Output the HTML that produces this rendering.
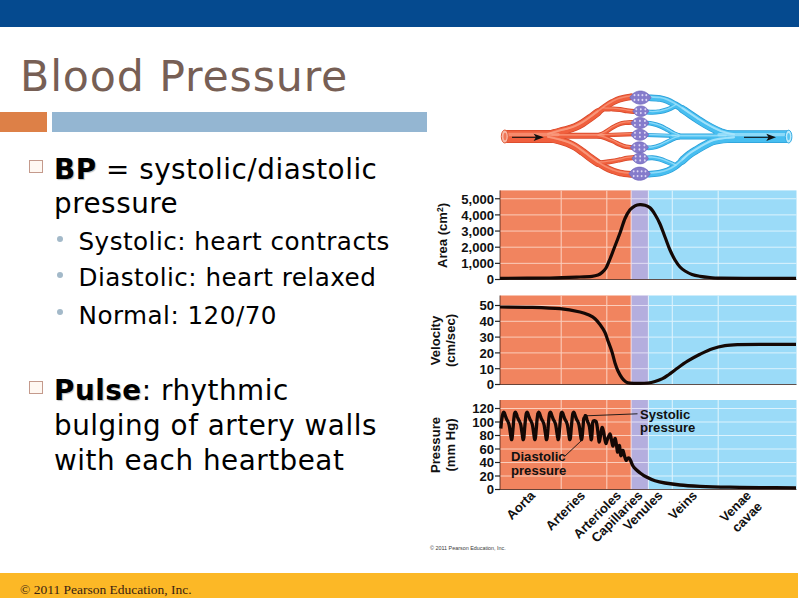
<!DOCTYPE html>
<html><head><meta charset="utf-8"><title>Blood Pressure</title>
<style>
html,body{margin:0;padding:0;}
body{width:800px;height:600px;position:relative;overflow:hidden;background:#fff;font-family:"DejaVu Sans","Liberation Sans",sans-serif;}
#top{position:absolute;left:0;top:0;width:798.6px;height:26.7px;background:#054a8f;}
#or{position:absolute;left:0;top:112px;width:46.8px;height:19.6px;background:#dd8047;}
#bl{position:absolute;left:52px;top:112px;width:375px;height:19.6px;background:#94b6d2;}
#foot{position:absolute;left:0;top:572.6px;width:798px;height:25.8px;background:#fcb826;}
#foottxt{position:absolute;left:20px;top:581.4px;font-family:"Liberation Serif",serif;font-size:13.5px;color:#3a2312;white-space:nowrap;line-height:18px;}
h1{position:absolute;left:20px;top:51.3px;margin:0;font-weight:normal;font-size:42.7px;letter-spacing:0.85px;line-height:50px;color:#775f55;white-space:nowrap;}
.l1{position:absolute;left:54px;font-size:27.8px;letter-spacing:0.52px;line-height:34px;color:#000;white-space:nowrap;}
.l1 b{text-shadow:1px 1px 1px rgba(0,0,0,.25);}
.sq{position:absolute;left:29px;width:12px;height:10.5px;border:1px solid #c49a8c;background:#fff8f2;}
.l2{position:absolute;left:78.5px;font-size:24.65px;letter-spacing:0.46px;line-height:30px;color:#000;white-space:nowrap;}
.dot{position:absolute;left:57px;width:6px;height:6px;border-radius:50%;background:#a3b9c9;}
#fig{position:absolute;left:0;top:0;}
#fig text{font-family:"Liberation Sans",sans-serif;font-weight:bold;fill:#111;}
#fig .tk text{font-size:13.1px;}
#fig .ax{font-size:13.1px;}
#fig .lb text{font-size:13.1px;}
#fig .xl text{font-size:13.1px;}

</style></head><body>
<div id="top"></div>
<h1>Blood Pressure</h1>
<div id="or"></div><div id="bl"></div>

<div class="sq" style="top:160px"></div>
<div class="l1" style="top:152.5px"><b>BP</b> = systolic/diastolic</div>
<div class="l1" style="top:187.1px">pressure</div>
<div class="dot" style="top:236px"></div>
<div class="l2" style="top:227.1px">Systolic: heart contracts</div>
<div class="dot" style="top:272px"></div>
<div class="l2" style="top:263.4px">Diastolic: heart relaxed</div>
<div class="dot" style="top:309px"></div>
<div class="l2" style="top:301px">Normal: 120/70</div>
<div class="sq" style="top:381px"></div>
<div class="l1" style="top:374px"><b>Pulse</b>: rhythmic</div>
<div class="l1" style="top:408.7px">bulging of artery walls</div>
<div class="l1" style="top:443.8px">with each heartbeat</div>

<svg id="fig" width="800" height="600" viewBox="0 0 800 600">
<!--VESSELS-->
<path d="M503 136.5H558" stroke="#d8492a" stroke-width="13" fill="none" stroke-linecap="round"/>
<path d="M548.0 135.0C549.0 134.7 552.0 133.8 554.0 133.2C556.0 132.6 557.8 132.1 560.0 131.5C562.2 130.9 565.0 130.3 567.5 129.6C570.0 128.9 572.5 128.2 575.0 127.1C577.5 126.0 580.0 124.7 582.5 123.2C585.0 121.7 587.5 119.9 590.0 118.1C592.5 116.3 596.2 113.4 597.5 112.5" stroke="#d8492a" stroke-width="8" fill="none" stroke-linecap="round"/>
<path d="M548.0 135.0C549.0 134.7 552.0 133.8 554.0 133.2C556.0 132.6 557.8 132.1 560.0 131.5C562.2 130.9 565.0 130.3 567.5 129.6C570.0 128.9 572.5 128.2 575.0 127.1C577.5 126.0 580.0 124.7 582.5 123.2C585.0 121.7 587.5 119.9 590.0 118.1C592.5 116.3 595.0 114.4 597.5 112.5C600.0 110.6 602.5 108.6 605.0 106.9C607.5 105.2 610.0 103.6 612.5 102.3C615.0 101.0 616.9 99.9 620.0 99.0C623.1 98.1 629.2 97.1 631.0 96.7" stroke="#d8492a" stroke-width="6.6" fill="none" stroke-linecap="round"/>
<path d="M548.0 138.0C549.0 138.2 552.0 138.8 554.0 139.2C556.0 139.6 557.8 140.0 560.0 140.6C562.2 141.2 565.0 142.0 567.5 143.0C570.0 144.0 572.5 145.1 575.0 146.6C577.5 148.1 580.0 150.0 582.5 151.8C585.0 153.6 587.5 155.7 590.0 157.5C592.5 159.3 596.2 161.9 597.5 162.8" stroke="#d8492a" stroke-width="8" fill="none" stroke-linecap="round"/>
<path d="M548.0 138.0C549.0 138.2 552.0 138.8 554.0 139.2C556.0 139.6 557.8 140.0 560.0 140.6C562.2 141.2 565.0 142.0 567.5 143.0C570.0 144.0 572.5 145.1 575.0 146.6C577.5 148.1 580.0 150.0 582.5 151.8C585.0 153.6 587.5 155.7 590.0 157.5C592.5 159.3 595.0 161.2 597.5 162.8C600.0 164.4 602.5 166.0 605.0 167.3C607.5 168.6 610.0 169.7 612.5 170.6C615.0 171.5 616.9 172.3 620.0 172.9C623.1 173.5 629.2 174.2 631.0 174.4" stroke="#d8492a" stroke-width="6.6" fill="none" stroke-linecap="round"/>
<path d="M603.0 108.6C603.7 108.6 605.4 108.9 607.0 108.9C608.6 109.0 610.3 108.8 612.5 108.9C614.7 109.0 617.6 109.3 620.0 109.6C622.4 109.9 624.7 110.5 627.0 110.8C629.3 111.1 632.8 111.5 634.0 111.6" stroke="#d8492a" stroke-width="5" fill="none" stroke-linecap="round"/>
<path d="M599.0 162.8C600.0 162.7 602.8 162.6 605.0 162.3C607.2 162.1 610.0 161.7 612.5 161.3C615.0 160.9 617.6 160.3 620.0 159.8C622.4 159.3 624.7 158.6 627.0 158.2C629.3 157.8 632.8 157.7 634.0 157.6" stroke="#d8492a" stroke-width="5" fill="none" stroke-linecap="round"/>
<path d="M552 135.8H604" stroke="#d8492a" stroke-width="6" fill="none" stroke-linecap="round"/>
<path d="M600 135.3L634 134.2" stroke="#d8492a" stroke-width="4.2" fill="none" stroke-linecap="round"/>
<path d="M598.0 135.5C599.0 135.1 601.6 134.3 604.0 133.0C606.4 131.7 609.8 129.0 612.5 127.5C615.2 126.0 617.8 124.7 620.0 123.9C622.2 123.1 623.7 123.0 626.0 122.7C628.3 122.4 632.7 122.4 634.0 122.3" stroke="#d8492a" stroke-width="4.6" fill="none" stroke-linecap="round"/>
<path d="M598.0 136.0C599.0 136.2 601.6 136.7 604.0 137.5C606.4 138.3 609.8 139.8 612.5 141.0C615.2 142.2 617.8 143.7 620.0 144.7C622.2 145.7 623.7 146.3 626.0 146.8C628.3 147.3 632.7 147.5 634.0 147.7" stroke="#d8492a" stroke-width="4.6" fill="none" stroke-linecap="round"/>
<path d="M503 136.5H558" stroke="#f0603e" stroke-width="11.5" fill="none" stroke-linecap="round"/>
<path d="M548.0 135.0C549.0 134.7 552.0 133.8 554.0 133.2C556.0 132.6 557.8 132.1 560.0 131.5C562.2 130.9 565.0 130.3 567.5 129.6C570.0 128.9 572.5 128.2 575.0 127.1C577.5 126.0 580.0 124.7 582.5 123.2C585.0 121.7 587.5 119.9 590.0 118.1C592.5 116.3 596.2 113.4 597.5 112.5" stroke="#f0603e" stroke-width="6.5" fill="none" stroke-linecap="round"/>
<path d="M548.0 135.0C549.0 134.7 552.0 133.8 554.0 133.2C556.0 132.6 557.8 132.1 560.0 131.5C562.2 130.9 565.0 130.3 567.5 129.6C570.0 128.9 572.5 128.2 575.0 127.1C577.5 126.0 580.0 124.7 582.5 123.2C585.0 121.7 587.5 119.9 590.0 118.1C592.5 116.3 595.0 114.4 597.5 112.5C600.0 110.6 602.5 108.6 605.0 106.9C607.5 105.2 610.0 103.6 612.5 102.3C615.0 101.0 616.9 99.9 620.0 99.0C623.1 98.1 629.2 97.1 631.0 96.7" stroke="#f0603e" stroke-width="5.1" fill="none" stroke-linecap="round"/>
<path d="M548.0 138.0C549.0 138.2 552.0 138.8 554.0 139.2C556.0 139.6 557.8 140.0 560.0 140.6C562.2 141.2 565.0 142.0 567.5 143.0C570.0 144.0 572.5 145.1 575.0 146.6C577.5 148.1 580.0 150.0 582.5 151.8C585.0 153.6 587.5 155.7 590.0 157.5C592.5 159.3 596.2 161.9 597.5 162.8" stroke="#f0603e" stroke-width="6.5" fill="none" stroke-linecap="round"/>
<path d="M548.0 138.0C549.0 138.2 552.0 138.8 554.0 139.2C556.0 139.6 557.8 140.0 560.0 140.6C562.2 141.2 565.0 142.0 567.5 143.0C570.0 144.0 572.5 145.1 575.0 146.6C577.5 148.1 580.0 150.0 582.5 151.8C585.0 153.6 587.5 155.7 590.0 157.5C592.5 159.3 595.0 161.2 597.5 162.8C600.0 164.4 602.5 166.0 605.0 167.3C607.5 168.6 610.0 169.7 612.5 170.6C615.0 171.5 616.9 172.3 620.0 172.9C623.1 173.5 629.2 174.2 631.0 174.4" stroke="#f0603e" stroke-width="5.1" fill="none" stroke-linecap="round"/>
<path d="M603.0 108.6C603.7 108.6 605.4 108.9 607.0 108.9C608.6 109.0 610.3 108.8 612.5 108.9C614.7 109.0 617.6 109.3 620.0 109.6C622.4 109.9 624.7 110.5 627.0 110.8C629.3 111.1 632.8 111.5 634.0 111.6" stroke="#f0603e" stroke-width="3.5" fill="none" stroke-linecap="round"/>
<path d="M599.0 162.8C600.0 162.7 602.8 162.6 605.0 162.3C607.2 162.1 610.0 161.7 612.5 161.3C615.0 160.9 617.6 160.3 620.0 159.8C622.4 159.3 624.7 158.6 627.0 158.2C629.3 157.8 632.8 157.7 634.0 157.6" stroke="#f0603e" stroke-width="3.5" fill="none" stroke-linecap="round"/>
<path d="M552 135.8H604" stroke="#f0603e" stroke-width="4.5" fill="none" stroke-linecap="round"/>
<path d="M600 135.3L634 134.2" stroke="#f0603e" stroke-width="2.7" fill="none" stroke-linecap="round"/>
<path d="M598.0 135.5C599.0 135.1 601.6 134.3 604.0 133.0C606.4 131.7 609.8 129.0 612.5 127.5C615.2 126.0 617.8 124.7 620.0 123.9C622.2 123.1 623.7 123.0 626.0 122.7C628.3 122.4 632.7 122.4 634.0 122.3" stroke="#f0603e" stroke-width="3.1" fill="none" stroke-linecap="round"/>
<path d="M598.0 136.0C599.0 136.2 601.6 136.7 604.0 137.5C606.4 138.3 609.8 139.8 612.5 141.0C615.2 142.2 617.8 143.7 620.0 144.7C622.2 145.7 623.7 146.3 626.0 146.8C628.3 147.3 632.7 147.5 634.0 147.7" stroke="#f0603e" stroke-width="3.1" fill="none" stroke-linecap="round"/>
<path d="M503 136.5H558" stroke="#f99c80" stroke-width="3.4" fill="none" stroke-linecap="round" transform="translate(0,-1.95)" opacity=".7"/>
<path d="M548.0 135.0C549.0 134.7 552.0 133.8 554.0 133.2C556.0 132.6 557.8 132.1 560.0 131.5C562.2 130.9 565.0 130.3 567.5 129.6C570.0 128.9 572.5 128.2 575.0 127.1C577.5 126.0 580.0 124.7 582.5 123.2C585.0 121.7 587.5 119.9 590.0 118.1C592.5 116.3 596.2 113.4 597.5 112.5" stroke="#f99c80" stroke-width="2.1" fill="none" stroke-linecap="round" transform="translate(0,-1.20)" opacity=".7"/>
<path d="M548.0 135.0C549.0 134.7 552.0 133.8 554.0 133.2C556.0 132.6 557.8 132.1 560.0 131.5C562.2 130.9 565.0 130.3 567.5 129.6C570.0 128.9 572.5 128.2 575.0 127.1C577.5 126.0 580.0 124.7 582.5 123.2C585.0 121.7 587.5 119.9 590.0 118.1C592.5 116.3 595.0 114.4 597.5 112.5C600.0 110.6 602.5 108.6 605.0 106.9C607.5 105.2 610.0 103.6 612.5 102.3C615.0 101.0 616.9 99.9 620.0 99.0C623.1 98.1 629.2 97.1 631.0 96.7" stroke="#f99c80" stroke-width="1.7" fill="none" stroke-linecap="round" transform="translate(0,-0.99)" opacity=".7"/>
<path d="M548.0 138.0C549.0 138.2 552.0 138.8 554.0 139.2C556.0 139.6 557.8 140.0 560.0 140.6C562.2 141.2 565.0 142.0 567.5 143.0C570.0 144.0 572.5 145.1 575.0 146.6C577.5 148.1 580.0 150.0 582.5 151.8C585.0 153.6 587.5 155.7 590.0 157.5C592.5 159.3 596.2 161.9 597.5 162.8" stroke="#f99c80" stroke-width="2.1" fill="none" stroke-linecap="round" transform="translate(0,-1.20)" opacity=".7"/>
<path d="M548.0 138.0C549.0 138.2 552.0 138.8 554.0 139.2C556.0 139.6 557.8 140.0 560.0 140.6C562.2 141.2 565.0 142.0 567.5 143.0C570.0 144.0 572.5 145.1 575.0 146.6C577.5 148.1 580.0 150.0 582.5 151.8C585.0 153.6 587.5 155.7 590.0 157.5C592.5 159.3 595.0 161.2 597.5 162.8C600.0 164.4 602.5 166.0 605.0 167.3C607.5 168.6 610.0 169.7 612.5 170.6C615.0 171.5 616.9 172.3 620.0 172.9C623.1 173.5 629.2 174.2 631.0 174.4" stroke="#f99c80" stroke-width="1.7" fill="none" stroke-linecap="round" transform="translate(0,-0.99)" opacity=".7"/>
<path d="M603.0 108.6C603.7 108.6 605.4 108.9 607.0 108.9C608.6 109.0 610.3 108.8 612.5 108.9C614.7 109.0 617.6 109.3 620.0 109.6C622.4 109.9 624.7 110.5 627.0 110.8C629.3 111.1 632.8 111.5 634.0 111.6" stroke="#f99c80" stroke-width="1.3" fill="none" stroke-linecap="round" transform="translate(0,-0.75)" opacity=".7"/>
<path d="M599.0 162.8C600.0 162.7 602.8 162.6 605.0 162.3C607.2 162.1 610.0 161.7 612.5 161.3C615.0 160.9 617.6 160.3 620.0 159.8C622.4 159.3 624.7 158.6 627.0 158.2C629.3 157.8 632.8 157.7 634.0 157.6" stroke="#f99c80" stroke-width="1.3" fill="none" stroke-linecap="round" transform="translate(0,-0.75)" opacity=".7"/>
<path d="M552 135.8H604" stroke="#f99c80" stroke-width="1.6" fill="none" stroke-linecap="round" transform="translate(0,-0.90)" opacity=".7"/>
<path d="M600 135.3L634 134.2" stroke="#f99c80" stroke-width="1.1" fill="none" stroke-linecap="round" transform="translate(0,-0.63)" opacity=".7"/>
<path d="M598.0 135.5C599.0 135.1 601.6 134.3 604.0 133.0C606.4 131.7 609.8 129.0 612.5 127.5C615.2 126.0 617.8 124.7 620.0 123.9C622.2 123.1 623.7 123.0 626.0 122.7C628.3 122.4 632.7 122.4 634.0 122.3" stroke="#f99c80" stroke-width="1.2" fill="none" stroke-linecap="round" transform="translate(0,-0.69)" opacity=".7"/>
<path d="M598.0 136.0C599.0 136.2 601.6 136.7 604.0 137.5C606.4 138.3 609.8 139.8 612.5 141.0C615.2 142.2 617.8 143.7 620.0 144.7C622.2 145.7 623.7 146.3 626.0 146.8C628.3 147.3 632.7 147.5 634.0 147.7" stroke="#f99c80" stroke-width="1.2" fill="none" stroke-linecap="round" transform="translate(0,-0.69)" opacity=".7"/>
<path d="M719 136.6H788.5" stroke="#2b9fd8" stroke-width="12.8" fill="none" stroke-linecap="round"/>
<path d="M734.0 135.5C732.8 135.2 729.2 134.6 727.0 134.0C724.8 133.4 723.0 132.9 721.0 132.2C719.0 131.4 717.7 130.8 715.0 129.5C712.3 128.2 707.9 125.8 705.0 124.1C702.1 122.4 700.0 121.0 697.5 119.4C695.0 117.8 692.5 116.1 690.0 114.4C687.5 112.7 683.8 110.1 682.5 109.2" stroke="#2b9fd8" stroke-width="8" fill="none" stroke-linecap="round"/>
<path d="M734.0 135.5C732.8 135.2 729.2 134.6 727.0 134.0C724.8 133.4 723.0 132.9 721.0 132.2C719.0 131.4 717.7 130.8 715.0 129.5C712.3 128.2 707.9 125.8 705.0 124.1C702.1 122.4 700.0 121.0 697.5 119.4C695.0 117.8 692.5 116.1 690.0 114.4C687.5 112.7 685.0 110.9 682.5 109.2C680.0 107.5 677.5 105.9 675.0 104.5C672.5 103.1 670.0 101.6 667.5 100.6C665.0 99.6 663.1 99.0 660.0 98.5C656.9 98.0 650.8 97.9 649.0 97.8" stroke="#2b9fd8" stroke-width="6.6" fill="none" stroke-linecap="round"/>
<path d="M734.0 138.3C732.8 138.4 729.3 138.8 727.0 139.0C724.7 139.2 722.5 139.4 720.0 139.8C717.5 140.2 714.5 140.7 712.0 141.6C709.5 142.5 707.4 143.8 705.0 145.1C702.6 146.4 700.0 147.9 697.5 149.4C695.0 150.9 692.5 152.2 690.0 154.1C687.5 155.9 683.8 159.4 682.5 160.5" stroke="#2b9fd8" stroke-width="8" fill="none" stroke-linecap="round"/>
<path d="M734.0 138.3C732.8 138.4 729.3 138.8 727.0 139.0C724.7 139.2 722.5 139.4 720.0 139.8C717.5 140.2 714.5 140.7 712.0 141.6C709.5 142.5 707.4 143.8 705.0 145.1C702.6 146.4 700.0 147.9 697.5 149.4C695.0 150.9 692.5 152.2 690.0 154.1C687.5 155.9 685.0 158.4 682.5 160.5C680.0 162.6 677.5 165.1 675.0 166.8C672.5 168.5 670.0 169.8 667.5 170.8C665.0 171.8 663.1 172.3 660.0 172.9C656.9 173.5 650.8 174.0 649.0 174.2" stroke="#2b9fd8" stroke-width="6.6" fill="none" stroke-linecap="round"/>
<path d="M676.0 105.0C675.6 105.3 674.9 106.0 673.5 106.8C672.1 107.6 669.8 108.8 667.5 109.6C665.2 110.4 662.5 111.1 660.0 111.6C657.5 112.0 654.8 112.3 652.5 112.3C650.2 112.3 647.1 111.9 646.0 111.8" stroke="#2b9fd8" stroke-width="5" fill="none" stroke-linecap="round"/>
<path d="M676.0 166.0C675.5 165.7 674.1 164.9 672.7 164.2C671.3 163.5 669.6 162.8 667.5 162.0C665.4 161.2 662.5 159.9 660.0 159.2C657.5 158.5 654.8 158.0 652.5 157.8C650.2 157.6 647.1 158.0 646.0 158.0" stroke="#2b9fd8" stroke-width="5" fill="none" stroke-linecap="round"/>
<path d="M726 136.5H672" stroke="#2b9fd8" stroke-width="6" fill="none" stroke-linecap="round"/>
<path d="M676 136L646 135" stroke="#2b9fd8" stroke-width="4.2" fill="none" stroke-linecap="round"/>
<path d="M679.0 135.5C678.2 135.2 675.9 134.4 674.0 133.5C672.1 132.6 669.8 131.1 667.5 129.8C665.2 128.6 662.5 127.0 660.0 126.0C657.5 125.0 654.8 124.3 652.5 123.8C650.2 123.3 647.1 123.1 646.0 123.0" stroke="#2b9fd8" stroke-width="4.6" fill="none" stroke-linecap="round"/>
<path d="M679.0 137.0C678.1 137.3 675.4 138.0 673.5 138.8C671.6 139.6 669.8 140.7 667.5 141.8C665.2 142.9 662.5 144.4 660.0 145.4C657.5 146.4 654.8 147.2 652.5 147.6C650.2 148.0 647.1 147.8 646.0 147.8" stroke="#2b9fd8" stroke-width="4.6" fill="none" stroke-linecap="round"/>
<path d="M719 136.6H788.5" stroke="#47bef0" stroke-width="11.3" fill="none" stroke-linecap="round"/>
<path d="M734.0 135.5C732.8 135.2 729.2 134.6 727.0 134.0C724.8 133.4 723.0 132.9 721.0 132.2C719.0 131.4 717.7 130.8 715.0 129.5C712.3 128.2 707.9 125.8 705.0 124.1C702.1 122.4 700.0 121.0 697.5 119.4C695.0 117.8 692.5 116.1 690.0 114.4C687.5 112.7 683.8 110.1 682.5 109.2" stroke="#47bef0" stroke-width="6.5" fill="none" stroke-linecap="round"/>
<path d="M734.0 135.5C732.8 135.2 729.2 134.6 727.0 134.0C724.8 133.4 723.0 132.9 721.0 132.2C719.0 131.4 717.7 130.8 715.0 129.5C712.3 128.2 707.9 125.8 705.0 124.1C702.1 122.4 700.0 121.0 697.5 119.4C695.0 117.8 692.5 116.1 690.0 114.4C687.5 112.7 685.0 110.9 682.5 109.2C680.0 107.5 677.5 105.9 675.0 104.5C672.5 103.1 670.0 101.6 667.5 100.6C665.0 99.6 663.1 99.0 660.0 98.5C656.9 98.0 650.8 97.9 649.0 97.8" stroke="#47bef0" stroke-width="5.1" fill="none" stroke-linecap="round"/>
<path d="M734.0 138.3C732.8 138.4 729.3 138.8 727.0 139.0C724.7 139.2 722.5 139.4 720.0 139.8C717.5 140.2 714.5 140.7 712.0 141.6C709.5 142.5 707.4 143.8 705.0 145.1C702.6 146.4 700.0 147.9 697.5 149.4C695.0 150.9 692.5 152.2 690.0 154.1C687.5 155.9 683.8 159.4 682.5 160.5" stroke="#47bef0" stroke-width="6.5" fill="none" stroke-linecap="round"/>
<path d="M734.0 138.3C732.8 138.4 729.3 138.8 727.0 139.0C724.7 139.2 722.5 139.4 720.0 139.8C717.5 140.2 714.5 140.7 712.0 141.6C709.5 142.5 707.4 143.8 705.0 145.1C702.6 146.4 700.0 147.9 697.5 149.4C695.0 150.9 692.5 152.2 690.0 154.1C687.5 155.9 685.0 158.4 682.5 160.5C680.0 162.6 677.5 165.1 675.0 166.8C672.5 168.5 670.0 169.8 667.5 170.8C665.0 171.8 663.1 172.3 660.0 172.9C656.9 173.5 650.8 174.0 649.0 174.2" stroke="#47bef0" stroke-width="5.1" fill="none" stroke-linecap="round"/>
<path d="M676.0 105.0C675.6 105.3 674.9 106.0 673.5 106.8C672.1 107.6 669.8 108.8 667.5 109.6C665.2 110.4 662.5 111.1 660.0 111.6C657.5 112.0 654.8 112.3 652.5 112.3C650.2 112.3 647.1 111.9 646.0 111.8" stroke="#47bef0" stroke-width="3.5" fill="none" stroke-linecap="round"/>
<path d="M676.0 166.0C675.5 165.7 674.1 164.9 672.7 164.2C671.3 163.5 669.6 162.8 667.5 162.0C665.4 161.2 662.5 159.9 660.0 159.2C657.5 158.5 654.8 158.0 652.5 157.8C650.2 157.6 647.1 158.0 646.0 158.0" stroke="#47bef0" stroke-width="3.5" fill="none" stroke-linecap="round"/>
<path d="M726 136.5H672" stroke="#47bef0" stroke-width="4.5" fill="none" stroke-linecap="round"/>
<path d="M676 136L646 135" stroke="#47bef0" stroke-width="2.7" fill="none" stroke-linecap="round"/>
<path d="M679.0 135.5C678.2 135.2 675.9 134.4 674.0 133.5C672.1 132.6 669.8 131.1 667.5 129.8C665.2 128.6 662.5 127.0 660.0 126.0C657.5 125.0 654.8 124.3 652.5 123.8C650.2 123.3 647.1 123.1 646.0 123.0" stroke="#47bef0" stroke-width="3.1" fill="none" stroke-linecap="round"/>
<path d="M679.0 137.0C678.1 137.3 675.4 138.0 673.5 138.8C671.6 139.6 669.8 140.7 667.5 141.8C665.2 142.9 662.5 144.4 660.0 145.4C657.5 146.4 654.8 147.2 652.5 147.6C650.2 148.0 647.1 147.8 646.0 147.8" stroke="#47bef0" stroke-width="3.1" fill="none" stroke-linecap="round"/>
<path d="M719 136.6H788.5" stroke="#a9e6fc" stroke-width="3.3" fill="none" stroke-linecap="round" transform="translate(0,-1.92)" opacity=".7"/>
<path d="M734.0 135.5C732.8 135.2 729.2 134.6 727.0 134.0C724.8 133.4 723.0 132.9 721.0 132.2C719.0 131.4 717.7 130.8 715.0 129.5C712.3 128.2 707.9 125.8 705.0 124.1C702.1 122.4 700.0 121.0 697.5 119.4C695.0 117.8 692.5 116.1 690.0 114.4C687.5 112.7 683.8 110.1 682.5 109.2" stroke="#a9e6fc" stroke-width="2.1" fill="none" stroke-linecap="round" transform="translate(0,-1.20)" opacity=".7"/>
<path d="M734.0 135.5C732.8 135.2 729.2 134.6 727.0 134.0C724.8 133.4 723.0 132.9 721.0 132.2C719.0 131.4 717.7 130.8 715.0 129.5C712.3 128.2 707.9 125.8 705.0 124.1C702.1 122.4 700.0 121.0 697.5 119.4C695.0 117.8 692.5 116.1 690.0 114.4C687.5 112.7 685.0 110.9 682.5 109.2C680.0 107.5 677.5 105.9 675.0 104.5C672.5 103.1 670.0 101.6 667.5 100.6C665.0 99.6 663.1 99.0 660.0 98.5C656.9 98.0 650.8 97.9 649.0 97.8" stroke="#a9e6fc" stroke-width="1.7" fill="none" stroke-linecap="round" transform="translate(0,-0.99)" opacity=".7"/>
<path d="M734.0 138.3C732.8 138.4 729.3 138.8 727.0 139.0C724.7 139.2 722.5 139.4 720.0 139.8C717.5 140.2 714.5 140.7 712.0 141.6C709.5 142.5 707.4 143.8 705.0 145.1C702.6 146.4 700.0 147.9 697.5 149.4C695.0 150.9 692.5 152.2 690.0 154.1C687.5 155.9 683.8 159.4 682.5 160.5" stroke="#a9e6fc" stroke-width="2.1" fill="none" stroke-linecap="round" transform="translate(0,-1.20)" opacity=".7"/>
<path d="M734.0 138.3C732.8 138.4 729.3 138.8 727.0 139.0C724.7 139.2 722.5 139.4 720.0 139.8C717.5 140.2 714.5 140.7 712.0 141.6C709.5 142.5 707.4 143.8 705.0 145.1C702.6 146.4 700.0 147.9 697.5 149.4C695.0 150.9 692.5 152.2 690.0 154.1C687.5 155.9 685.0 158.4 682.5 160.5C680.0 162.6 677.5 165.1 675.0 166.8C672.5 168.5 670.0 169.8 667.5 170.8C665.0 171.8 663.1 172.3 660.0 172.9C656.9 173.5 650.8 174.0 649.0 174.2" stroke="#a9e6fc" stroke-width="1.7" fill="none" stroke-linecap="round" transform="translate(0,-0.99)" opacity=".7"/>
<path d="M676.0 105.0C675.6 105.3 674.9 106.0 673.5 106.8C672.1 107.6 669.8 108.8 667.5 109.6C665.2 110.4 662.5 111.1 660.0 111.6C657.5 112.0 654.8 112.3 652.5 112.3C650.2 112.3 647.1 111.9 646.0 111.8" stroke="#a9e6fc" stroke-width="1.3" fill="none" stroke-linecap="round" transform="translate(0,-0.75)" opacity=".7"/>
<path d="M676.0 166.0C675.5 165.7 674.1 164.9 672.7 164.2C671.3 163.5 669.6 162.8 667.5 162.0C665.4 161.2 662.5 159.9 660.0 159.2C657.5 158.5 654.8 158.0 652.5 157.8C650.2 157.6 647.1 158.0 646.0 158.0" stroke="#a9e6fc" stroke-width="1.3" fill="none" stroke-linecap="round" transform="translate(0,-0.75)" opacity=".7"/>
<path d="M726 136.5H672" stroke="#a9e6fc" stroke-width="1.6" fill="none" stroke-linecap="round" transform="translate(0,-0.90)" opacity=".7"/>
<path d="M676 136L646 135" stroke="#a9e6fc" stroke-width="1.1" fill="none" stroke-linecap="round" transform="translate(0,-0.63)" opacity=".7"/>
<path d="M679.0 135.5C678.2 135.2 675.9 134.4 674.0 133.5C672.1 132.6 669.8 131.1 667.5 129.8C665.2 128.6 662.5 127.0 660.0 126.0C657.5 125.0 654.8 124.3 652.5 123.8C650.2 123.3 647.1 123.1 646.0 123.0" stroke="#a9e6fc" stroke-width="1.2" fill="none" stroke-linecap="round" transform="translate(0,-0.69)" opacity=".7"/>
<path d="M679.0 137.0C678.1 137.3 675.4 138.0 673.5 138.8C671.6 139.6 669.8 140.7 667.5 141.8C665.2 142.9 662.5 144.4 660.0 145.4C657.5 146.4 654.8 147.2 652.5 147.6C650.2 148.0 647.1 147.8 646.0 147.8" stroke="#a9e6fc" stroke-width="1.2" fill="none" stroke-linecap="round" transform="translate(0,-0.69)" opacity=".7"/>
<rect x="494" y="128" width="9.5" height="17" fill="#fff"/><rect x="789" y="128" width="10" height="17" fill="#fff"/>
<ellipse cx="504.8" cy="136.5" rx="3.5" ry="6.5" fill="#f8b8a6" stroke="#e2603f" stroke-width="1"/>
<ellipse cx="505" cy="136.5" rx="1.5" ry="3.7" fill="#f07858"/>
<ellipse cx="788.6" cy="136.6" rx="3.3" ry="6.4" fill="#bdebfc" stroke="#36ade5" stroke-width="1"/>
<ellipse cx="788.6" cy="136.6" rx="1.4" ry="3.6" fill="#58c6f2"/>
<path d="M512 137.3H537" stroke="#111" stroke-width="1.1"/><path d="M543.8 137.3L533.6 133.7L536 137.3L533.6 140.9Z" fill="#111"/>
<path d="M744 137.3H769" stroke="#111" stroke-width="1.1"/><path d="M776 137.3L766.3 133.7L768.6 137.3L766.3 140.9Z" fill="#111"/>
<path d="M629.8 97.6C634.6 88.8 646.2 88.8 651.0 97.6C646.2 106.4 634.6 106.4 629.8 97.6Z" fill="#857bcb" stroke="#7066bb" stroke-width="0.7"/>
<ellipse cx="634.5" cy="95.2" rx="0.95" ry="1.15" fill="#ddd6f4"/>
<ellipse cx="638.4" cy="95.2" rx="0.95" ry="1.15" fill="#ddd6f4"/>
<ellipse cx="642.4" cy="95.2" rx="0.95" ry="1.15" fill="#ddd6f4"/>
<ellipse cx="646.3" cy="95.2" rx="0.95" ry="1.15" fill="#ddd6f4"/>
<ellipse cx="634.5" cy="100.0" rx="0.95" ry="1.15" fill="#ddd6f4"/>
<ellipse cx="638.4" cy="100.0" rx="0.95" ry="1.15" fill="#ddd6f4"/>
<ellipse cx="642.4" cy="100.0" rx="0.95" ry="1.15" fill="#ddd6f4"/>
<ellipse cx="646.3" cy="100.0" rx="0.95" ry="1.15" fill="#ddd6f4"/>
<path d="M632.8 111.2C636.4 104.1 645.2 104.1 648.8 111.2C645.2 118.3 636.4 118.3 632.8 111.2Z" fill="#857bcb" stroke="#7066bb" stroke-width="0.7"/>
<ellipse cx="636.3" cy="109.3" rx="0.95" ry="1.15" fill="#ddd6f4"/>
<ellipse cx="640.8" cy="109.3" rx="0.95" ry="1.15" fill="#ddd6f4"/>
<ellipse cx="645.3" cy="109.3" rx="0.95" ry="1.15" fill="#ddd6f4"/>
<ellipse cx="636.3" cy="113.1" rx="0.95" ry="1.15" fill="#ddd6f4"/>
<ellipse cx="640.8" cy="113.1" rx="0.95" ry="1.15" fill="#ddd6f4"/>
<ellipse cx="645.3" cy="113.1" rx="0.95" ry="1.15" fill="#ddd6f4"/>
<path d="M630.9 123C634.9 115.5 644.9 115.5 648.9 123C644.9 130.5 634.9 130.5 630.9 123Z" fill="#857bcb" stroke="#7066bb" stroke-width="0.7"/>
<ellipse cx="634.9" cy="120.9" rx="0.95" ry="1.15" fill="#ddd6f4"/>
<ellipse cx="639.9" cy="120.9" rx="0.95" ry="1.15" fill="#ddd6f4"/>
<ellipse cx="644.9" cy="120.9" rx="0.95" ry="1.15" fill="#ddd6f4"/>
<ellipse cx="634.9" cy="125.1" rx="0.95" ry="1.15" fill="#ddd6f4"/>
<ellipse cx="639.9" cy="125.1" rx="0.95" ry="1.15" fill="#ddd6f4"/>
<ellipse cx="644.9" cy="125.1" rx="0.95" ry="1.15" fill="#ddd6f4"/>
<path d="M631.1 134.8C635.1 127.4 644.7 127.4 648.7 134.8C644.7 142.2 635.1 142.2 631.1 134.8Z" fill="#857bcb" stroke="#7066bb" stroke-width="0.7"/>
<ellipse cx="635.0" cy="132.8" rx="0.95" ry="1.15" fill="#ddd6f4"/>
<ellipse cx="639.9" cy="132.8" rx="0.95" ry="1.15" fill="#ddd6f4"/>
<ellipse cx="644.8" cy="132.8" rx="0.95" ry="1.15" fill="#ddd6f4"/>
<ellipse cx="635.0" cy="136.8" rx="0.95" ry="1.15" fill="#ddd6f4"/>
<ellipse cx="639.9" cy="136.8" rx="0.95" ry="1.15" fill="#ddd6f4"/>
<ellipse cx="644.8" cy="136.8" rx="0.95" ry="1.15" fill="#ddd6f4"/>
<path d="M630.4 147.4C634.4 139.9 644.4 139.9 648.4 147.4C644.4 154.9 634.4 154.9 630.4 147.4Z" fill="#857bcb" stroke="#7066bb" stroke-width="0.7"/>
<ellipse cx="634.4" cy="145.3" rx="0.95" ry="1.15" fill="#ddd6f4"/>
<ellipse cx="639.4" cy="145.3" rx="0.95" ry="1.15" fill="#ddd6f4"/>
<ellipse cx="644.4" cy="145.3" rx="0.95" ry="1.15" fill="#ddd6f4"/>
<ellipse cx="634.4" cy="149.5" rx="0.95" ry="1.15" fill="#ddd6f4"/>
<ellipse cx="639.4" cy="149.5" rx="0.95" ry="1.15" fill="#ddd6f4"/>
<ellipse cx="644.4" cy="149.5" rx="0.95" ry="1.15" fill="#ddd6f4"/>
<path d="M632.0 158.4C635.7 151.1 644.7 151.1 648.4 158.4C644.7 165.7 635.7 165.7 632.0 158.4Z" fill="#857bcb" stroke="#7066bb" stroke-width="0.7"/>
<ellipse cx="635.6" cy="156.4" rx="0.95" ry="1.15" fill="#ddd6f4"/>
<ellipse cx="640.2" cy="156.4" rx="0.95" ry="1.15" fill="#ddd6f4"/>
<ellipse cx="644.8" cy="156.4" rx="0.95" ry="1.15" fill="#ddd6f4"/>
<ellipse cx="635.6" cy="160.4" rx="0.95" ry="1.15" fill="#ddd6f4"/>
<ellipse cx="640.2" cy="160.4" rx="0.95" ry="1.15" fill="#ddd6f4"/>
<ellipse cx="644.8" cy="160.4" rx="0.95" ry="1.15" fill="#ddd6f4"/>
<path d="M629.0 173.7C633.8 164.9 645.4 164.9 650.2 173.7C645.4 182.5 633.8 182.5 629.0 173.7Z" fill="#857bcb" stroke="#7066bb" stroke-width="0.7"/>
<ellipse cx="633.7" cy="171.3" rx="0.95" ry="1.15" fill="#ddd6f4"/>
<ellipse cx="637.6" cy="171.3" rx="0.95" ry="1.15" fill="#ddd6f4"/>
<ellipse cx="641.6" cy="171.3" rx="0.95" ry="1.15" fill="#ddd6f4"/>
<ellipse cx="645.5" cy="171.3" rx="0.95" ry="1.15" fill="#ddd6f4"/>
<ellipse cx="633.7" cy="176.1" rx="0.95" ry="1.15" fill="#ddd6f4"/>
<ellipse cx="637.6" cy="176.1" rx="0.95" ry="1.15" fill="#ddd6f4"/>
<ellipse cx="641.6" cy="176.1" rx="0.95" ry="1.15" fill="#ddd6f4"/>
<ellipse cx="645.5" cy="176.1" rx="0.95" ry="1.15" fill="#ddd6f4"/>
<!--/VESSELS-->
<!--CHARTS-->
<rect x="500" y="190.4" width="131.1" height="89.1" fill="#f1845f"/>
<rect x="631.1" y="190.4" width="17.3" height="89.1" fill="#b4aede"/>
<rect x="648.4" y="190.4" width="148.1" height="89.1" fill="#9bdbf8"/>
<path d="M500 263.35H631.1" stroke="#fbcdbb" stroke-width="1"/>
<path d="M631.1 263.35H648.4" stroke="#e2def5" stroke-width="1"/>
<path d="M648.4 263.35H796.5" stroke="#dcf3fd" stroke-width="1"/>
<path d="M500 247.2H631.1" stroke="#fbcdbb" stroke-width="1"/>
<path d="M631.1 247.2H648.4" stroke="#e2def5" stroke-width="1"/>
<path d="M648.4 247.2H796.5" stroke="#dcf3fd" stroke-width="1"/>
<path d="M500 231.05H631.1" stroke="#fbcdbb" stroke-width="1"/>
<path d="M631.1 231.05H648.4" stroke="#e2def5" stroke-width="1"/>
<path d="M648.4 231.05H796.5" stroke="#dcf3fd" stroke-width="1"/>
<path d="M500 214.9H631.1" stroke="#fbcdbb" stroke-width="1"/>
<path d="M631.1 214.9H648.4" stroke="#e2def5" stroke-width="1"/>
<path d="M648.4 214.9H796.5" stroke="#dcf3fd" stroke-width="1"/>
<path d="M500 198.75H631.1" stroke="#fbcdbb" stroke-width="1"/>
<path d="M631.1 198.75H648.4" stroke="#e2def5" stroke-width="1"/>
<path d="M648.4 198.75H796.5" stroke="#dcf3fd" stroke-width="1"/>
<path d="M561.2 190.4V279.5" stroke="#fbcdbb" stroke-width="1.1"/>
<path d="M606.8 190.4V279.5" stroke="#fbcdbb" stroke-width="1.1"/>
<path d="M672.3 190.4V279.5" stroke="#dcf3fd" stroke-width="1.1"/>
<path d="M718.2 190.4V279.5" stroke="#dcf3fd" stroke-width="1.1"/>
<path d="M631.1 190.4V279.5" stroke="#f6dcdc" stroke-width="1"/>
<path d="M648.4 190.4V279.5" stroke="#e2effb" stroke-width="1"/>
<path d="M500 190.4V279.5H796.5" stroke="#3a1a10" stroke-width="1" fill="none" opacity=".75"/>
<path d="M495 279.5H500" stroke="#222" stroke-width="1.2"/>
<path d="M495 263.35H500" stroke="#222" stroke-width="1.2"/>
<path d="M495 247.2H500" stroke="#222" stroke-width="1.2"/>
<path d="M495 231.05H500" stroke="#222" stroke-width="1.2"/>
<path d="M495 214.9H500" stroke="#222" stroke-width="1.2"/>
<path d="M495 198.75H500" stroke="#222" stroke-width="1.2"/>
<path d="M500.0 278.3 C508.3 278.2 536.7 278.2 550.0 278.0 C563.3 277.8 573.0 277.3 580.0 277.0 C587.0 276.7 589.0 276.6 592.0 276.3 C595.0 276.0 596.3 275.6 598.0 275.0 C599.7 274.4 600.7 273.7 602.0 272.5 C603.3 271.3 604.7 270.2 606.0 268.0 C607.3 265.8 608.5 262.7 610.0 259.0 C611.5 255.3 613.3 250.3 615.0 246.0 C616.7 241.7 618.3 237.6 620.0 233.0 C621.7 228.4 623.3 222.4 625.0 218.5 C626.7 214.6 628.3 211.9 630.0 209.8 C631.7 207.7 633.3 206.7 635.0 205.8 C636.7 204.9 638.3 204.7 640.0 204.6 C641.7 204.5 643.3 204.8 645.0 205.3 C646.7 205.8 648.3 206.3 650.0 207.8 C651.7 209.3 653.3 211.8 655.0 214.5 C656.7 217.2 658.3 220.2 660.0 224.0 C661.7 227.8 663.3 232.7 665.0 237.0 C666.7 241.3 668.3 246.2 670.0 250.0 C671.7 253.8 673.3 257.2 675.0 260.0 C676.7 262.8 678.3 265.2 680.0 267.0 C681.7 268.8 683.0 269.8 685.0 271.0 C687.0 272.2 689.5 273.6 692.0 274.5 C694.5 275.4 697.0 275.8 700.0 276.3 C703.0 276.8 706.7 277.2 710.0 277.5 C713.3 277.8 711.7 278.1 720.0 278.2 C728.3 278.3 747.3 278.3 760.0 278.3 C772.7 278.3 790.0 278.3 796.0 278.3" fill="none" stroke="#140805" stroke-width="3.2" stroke-linecap="butt" stroke-linejoin="round"/>
<g class="tk"><text x="494" y="284.4" text-anchor="end">0</text>
<text x="494" y="268.2" text-anchor="end">1,000</text>
<text x="494" y="252.1" text-anchor="end">2,000</text>
<text x="494" y="236.0" text-anchor="end">3,000</text>
<text x="494" y="219.8" text-anchor="end">4,000</text>
<text x="494" y="203.7" text-anchor="end">5,000</text></g>
<text class="ax" transform="translate(446.9,235.5) rotate(-90)" text-anchor="middle">Area (cm<tspan dy="-4" font-size="8.5">2</tspan><tspan dy="4">)</tspan></text>
<rect x="500" y="295.5" width="131.1" height="89.0" fill="#f1845f"/>
<rect x="631.1" y="295.5" width="17.3" height="89.0" fill="#b4aede"/>
<rect x="648.4" y="295.5" width="148.1" height="89.0" fill="#9bdbf8"/>
<path d="M500 368.7H631.1" stroke="#fbcdbb" stroke-width="1"/>
<path d="M631.1 368.7H648.4" stroke="#e2def5" stroke-width="1"/>
<path d="M648.4 368.7H796.5" stroke="#dcf3fd" stroke-width="1"/>
<path d="M500 352.9H631.1" stroke="#fbcdbb" stroke-width="1"/>
<path d="M631.1 352.9H648.4" stroke="#e2def5" stroke-width="1"/>
<path d="M648.4 352.9H796.5" stroke="#dcf3fd" stroke-width="1"/>
<path d="M500 337.1H631.1" stroke="#fbcdbb" stroke-width="1"/>
<path d="M631.1 337.1H648.4" stroke="#e2def5" stroke-width="1"/>
<path d="M648.4 337.1H796.5" stroke="#dcf3fd" stroke-width="1"/>
<path d="M500 321.3H631.1" stroke="#fbcdbb" stroke-width="1"/>
<path d="M631.1 321.3H648.4" stroke="#e2def5" stroke-width="1"/>
<path d="M648.4 321.3H796.5" stroke="#dcf3fd" stroke-width="1"/>
<path d="M500 305.5H631.1" stroke="#fbcdbb" stroke-width="1"/>
<path d="M631.1 305.5H648.4" stroke="#e2def5" stroke-width="1"/>
<path d="M648.4 305.5H796.5" stroke="#dcf3fd" stroke-width="1"/>
<path d="M561.2 295.5V384.5" stroke="#fbcdbb" stroke-width="1.1"/>
<path d="M606.8 295.5V384.5" stroke="#fbcdbb" stroke-width="1.1"/>
<path d="M672.3 295.5V384.5" stroke="#dcf3fd" stroke-width="1.1"/>
<path d="M718.2 295.5V384.5" stroke="#dcf3fd" stroke-width="1.1"/>
<path d="M631.1 295.5V384.5" stroke="#f6dcdc" stroke-width="1"/>
<path d="M648.4 295.5V384.5" stroke="#e2effb" stroke-width="1"/>
<path d="M500 295.5V384.5H796.5" stroke="#3a1a10" stroke-width="1" fill="none" opacity=".75"/>
<path d="M495 384.5H500" stroke="#222" stroke-width="1.2"/>
<path d="M495 368.7H500" stroke="#222" stroke-width="1.2"/>
<path d="M495 352.9H500" stroke="#222" stroke-width="1.2"/>
<path d="M495 337.1H500" stroke="#222" stroke-width="1.2"/>
<path d="M495 321.3H500" stroke="#222" stroke-width="1.2"/>
<path d="M495 305.5H500" stroke="#222" stroke-width="1.2"/>
<path d="M500.0 307.0 C505.0 307.1 520.0 307.0 530.0 307.3 C540.0 307.6 551.7 307.9 560.0 308.7 C568.3 309.5 575.0 310.9 580.0 312.0 C585.0 313.1 587.5 314.4 590.0 315.5 C592.5 316.6 593.3 317.2 595.0 318.7 C596.7 320.2 598.3 322.2 600.0 324.5 C601.7 326.8 603.7 329.8 605.0 332.5 C606.3 335.2 606.8 337.8 608.0 341.0 C609.2 344.2 610.8 348.3 612.0 352.0 C613.2 355.7 614.0 359.8 615.0 363.0 C616.0 366.2 616.8 368.5 618.0 371.0 C619.2 373.5 620.7 376.2 622.0 378.0 C623.3 379.8 624.7 381.1 626.0 382.0 C627.3 382.9 627.7 383.0 630.0 383.2 C632.3 383.4 637.0 383.4 640.0 383.4 C643.0 383.4 645.5 383.3 648.0 383.0 C650.5 382.7 652.6 382.2 655.0 381.5 C657.4 380.8 660.2 379.9 662.5 378.7 C664.8 377.5 666.9 375.9 669.0 374.5 C671.1 373.1 671.9 372.2 675.0 370.0 C678.1 367.8 683.3 363.8 687.5 361.2 C691.7 358.6 695.8 356.4 700.0 354.3 C704.2 352.2 708.3 350.1 712.5 348.7 C716.7 347.2 720.8 346.3 725.0 345.6 C729.2 344.9 731.7 344.8 737.5 344.6 C743.3 344.4 750.2 344.4 760.0 344.4 C769.8 344.4 790.0 344.4 796.0 344.4" fill="none" stroke="#140805" stroke-width="3.2" stroke-linejoin="round"/>
<g class="tk"><text x="494" y="389.4" text-anchor="end">0</text>
<text x="494" y="373.6" text-anchor="end">10</text>
<text x="494" y="357.8" text-anchor="end">20</text>
<text x="494" y="342.0" text-anchor="end">30</text>
<text x="494" y="326.2" text-anchor="end">40</text>
<text x="494" y="310.4" text-anchor="end">50</text></g>
<text class="ax" transform="translate(440.3,340.5) rotate(-90)" text-anchor="middle">Velocity</text>
<text class="ax" transform="translate(455.3,340.5) rotate(-90)" text-anchor="middle">(cm/sec)</text>
<rect x="500" y="400" width="131.1" height="89.5" fill="#f1845f"/>
<rect x="631.1" y="400" width="17.3" height="89.5" fill="#b4aede"/>
<rect x="648.4" y="400" width="148.1" height="89.5" fill="#9bdbf8"/>
<path d="M500 476.0H631.1" stroke="#fbcdbb" stroke-width="1"/>
<path d="M631.1 476.0H648.4" stroke="#e2def5" stroke-width="1"/>
<path d="M648.4 476.0H796.5" stroke="#dcf3fd" stroke-width="1"/>
<path d="M500 462.5H631.1" stroke="#fbcdbb" stroke-width="1"/>
<path d="M631.1 462.5H648.4" stroke="#e2def5" stroke-width="1"/>
<path d="M648.4 462.5H796.5" stroke="#dcf3fd" stroke-width="1"/>
<path d="M500 449.0H631.1" stroke="#fbcdbb" stroke-width="1"/>
<path d="M631.1 449.0H648.4" stroke="#e2def5" stroke-width="1"/>
<path d="M648.4 449.0H796.5" stroke="#dcf3fd" stroke-width="1"/>
<path d="M500 435.5H631.1" stroke="#fbcdbb" stroke-width="1"/>
<path d="M631.1 435.5H648.4" stroke="#e2def5" stroke-width="1"/>
<path d="M648.4 435.5H796.5" stroke="#dcf3fd" stroke-width="1"/>
<path d="M500 422.0H631.1" stroke="#fbcdbb" stroke-width="1"/>
<path d="M631.1 422.0H648.4" stroke="#e2def5" stroke-width="1"/>
<path d="M648.4 422.0H796.5" stroke="#dcf3fd" stroke-width="1"/>
<path d="M500 408.5H631.1" stroke="#fbcdbb" stroke-width="1"/>
<path d="M631.1 408.5H648.4" stroke="#e2def5" stroke-width="1"/>
<path d="M648.4 408.5H796.5" stroke="#dcf3fd" stroke-width="1"/>
<path d="M561.2 400V489.5" stroke="#fbcdbb" stroke-width="1.1"/>
<path d="M606.8 400V489.5" stroke="#fbcdbb" stroke-width="1.1"/>
<path d="M672.3 400V489.5" stroke="#dcf3fd" stroke-width="1.1"/>
<path d="M718.2 400V489.5" stroke="#dcf3fd" stroke-width="1.1"/>
<path d="M631.1 400V489.5" stroke="#f6dcdc" stroke-width="1"/>
<path d="M648.4 400V489.5" stroke="#e2effb" stroke-width="1"/>
<path d="M500 400V489.5H796.5" stroke="#3a1a10" stroke-width="1" fill="none" opacity=".75"/>
<path d="M495 489.5H500" stroke="#222" stroke-width="1.2"/>
<path d="M495 476.0H500" stroke="#222" stroke-width="1.2"/>
<path d="M495 462.5H500" stroke="#222" stroke-width="1.2"/>
<path d="M495 449.0H500" stroke="#222" stroke-width="1.2"/>
<path d="M495 435.5H500" stroke="#222" stroke-width="1.2"/>
<path d="M495 422.0H500" stroke="#222" stroke-width="1.2"/>
<path d="M495 408.5H500" stroke="#222" stroke-width="1.2"/>
<path d="M500.8 428.5 C501.0 426.9 501.4 421.5 501.8 419.0 C502.2 416.5 502.6 414.8 502.9 413.7 C503.2 412.5 503.3 412.4 503.6 412.3 C503.9 412.2 504.2 412.5 504.5 413.2 C504.8 413.9 505.2 415.5 505.6 416.5 C506.0 417.6 506.4 418.8 506.8 419.6 C507.2 420.5 507.6 420.6 508.0 421.6 C508.4 422.5 508.8 423.5 509.2 425.3 C509.6 427.2 510.0 430.4 510.3 432.6 C510.6 434.7 510.9 437.2 511.2 438.3 C511.4 439.5 511.5 439.8 511.7 439.6 C511.8 439.4 512.0 439.2 512.2 437.4 C512.4 435.6 512.7 431.8 513.0 428.7 C513.3 425.6 513.5 421.6 513.8 419.1 C514.1 416.5 514.3 414.8 514.5 413.7 C514.8 412.5 515.0 412.4 515.2 412.3 C515.5 412.2 515.8 412.5 516.1 413.2 C516.5 413.9 516.9 415.5 517.2 416.5 C517.6 417.6 518.1 418.8 518.5 419.6 C518.9 420.5 519.2 420.6 519.6 421.6 C520.0 422.5 520.5 423.5 520.9 425.3 C521.2 427.2 521.6 430.4 522.0 432.6 C522.3 434.7 522.6 437.2 522.8 438.3 C523.0 439.5 523.1 439.8 523.3 439.6 C523.5 439.4 523.6 439.2 523.9 437.4 C524.1 435.6 524.4 431.8 524.6 428.7 C524.9 425.6 525.2 421.6 525.5 419.1 C525.7 416.5 526.0 414.8 526.2 413.7 C526.4 412.5 526.6 412.4 526.9 412.3 C527.2 412.2 527.5 412.5 527.8 413.2 C528.1 413.9 528.5 415.5 528.9 416.5 C529.3 417.6 529.7 418.8 530.1 419.6 C530.5 420.5 530.9 420.6 531.3 421.6 C531.7 422.5 532.1 423.5 532.5 425.3 C532.9 427.2 533.3 430.4 533.6 432.6 C533.9 434.7 534.2 437.2 534.4 438.3 C534.7 439.5 534.8 439.8 534.9 439.6 C535.1 439.4 535.3 439.2 535.5 437.4 C535.7 435.6 536.0 431.8 536.3 428.7 C536.6 425.6 536.8 421.6 537.1 419.1 C537.4 416.5 537.6 414.8 537.9 413.7 C538.1 412.5 538.3 412.4 538.6 412.3 C538.8 412.2 539.1 412.5 539.5 413.2 C539.8 413.9 540.2 415.5 540.6 416.5 C540.9 417.6 541.4 418.8 541.8 419.6 C542.2 420.5 542.6 420.6 543.0 421.6 C543.4 422.5 543.8 423.5 544.2 425.3 C544.5 427.2 544.9 430.4 545.3 432.6 C545.6 434.7 545.9 437.2 546.1 438.3 C546.3 439.5 546.4 439.8 546.6 439.6 C546.8 439.4 546.9 439.2 547.2 437.4 C547.4 435.6 547.7 431.8 548.0 428.7 C548.2 425.6 548.5 421.6 548.8 419.1 C549.0 416.5 549.3 414.8 549.5 413.7 C549.7 412.5 549.9 412.4 550.2 412.3 C550.5 412.2 550.8 412.5 551.1 413.2 C551.4 413.9 551.8 415.5 552.2 416.5 C552.6 417.6 553.0 418.8 553.4 419.6 C553.8 420.5 554.2 420.6 554.6 421.6 C555.0 422.5 555.4 423.5 555.8 425.3 C556.2 427.2 556.6 430.4 556.9 432.6 C557.2 434.7 557.5 437.2 557.8 438.3 C558.0 439.5 558.1 439.8 558.2 439.6 C558.4 439.4 558.6 439.2 558.8 437.4 C559.0 435.6 559.3 431.8 559.6 428.7 C559.9 425.6 560.1 421.6 560.4 419.1 C560.7 416.5 560.9 414.8 561.1 413.7 C561.4 412.5 561.6 412.4 561.9 412.3 C562.1 412.2 562.4 412.5 562.8 413.2 C563.1 413.9 563.5 415.5 563.9 416.5 C564.2 417.6 564.7 418.8 565.1 419.6 C565.5 420.5 565.9 420.6 566.2 421.6 C566.6 422.5 567.1 423.5 567.5 425.3 C567.8 427.2 568.2 430.4 568.6 432.6 C568.9 434.7 569.2 437.2 569.4 438.3 C569.6 439.5 569.7 439.8 569.9 439.6 C570.1 439.4 570.2 439.2 570.5 437.4 C570.7 435.6 571.0 431.8 571.2 428.7 C571.5 425.6 571.8 421.6 572.1 419.1 C572.3 416.5 572.6 414.8 572.8 413.7 C573.0 412.5 573.2 412.4 573.5 412.3 C573.8 412.2 574.1 412.5 574.4 413.2 C574.7 413.9 575.1 415.5 575.5 416.5 C575.9 417.6 576.3 418.8 576.7 419.6 C577.1 420.5 577.5 420.6 577.9 421.6 C578.3 422.5 578.7 423.5 579.1 425.3 C579.5 427.2 579.9 430.4 580.2 432.6 C580.5 434.7 580.8 437.2 581.0 438.3 C581.3 439.5 581.4 439.8 581.5 439.6 C581.7 439.4 581.9 439.2 582.1 437.4 C582.3 435.6 582.6 431.8 582.9 428.7 C583.2 425.6 583.4 421.0 583.7 419.1 C584.0 417.1 584.6 417.4 584.9 416.8 C585.2 416.2 585.2 415.7 585.4 415.6 C585.6 415.5 585.8 415.7 586.1 416.4 C586.3 417.0 586.6 418.4 586.9 419.4 C587.2 420.3 587.5 421.4 587.8 422.1 C588.1 422.8 588.4 423.0 588.6 423.8 C588.9 424.7 589.3 425.5 589.5 427.1 C589.8 428.8 590.1 431.6 590.3 433.6 C590.6 435.5 590.8 437.6 591.0 438.7 C591.1 439.7 591.2 439.9 591.3 439.8 C591.5 439.7 591.6 439.4 591.7 437.8 C591.9 436.2 592.1 432.8 592.3 430.1 C592.5 427.4 592.3 423.0 592.9 421.6 C593.5 420.1 595.3 420.4 596.0 421.5 C596.7 422.6 597.0 425.2 597.4 428.0 C597.8 430.8 598.3 435.7 598.6 438.0 C598.9 440.3 599.0 442.2 599.3 442.0 C599.6 441.8 599.8 439.4 600.3 437.0 C600.8 434.6 601.5 428.3 602.0 427.5 C602.5 426.7 603.1 429.9 603.6 432.0 C604.1 434.1 604.6 438.1 605.0 440.0 C605.4 441.9 605.6 443.6 606.0 443.6 C606.4 443.6 606.5 441.6 607.2 440.0 C607.9 438.4 609.3 433.8 610.0 433.8 C610.7 433.8 611.0 438.0 611.5 440.0 C612.0 442.0 612.4 445.7 612.8 446.0 C613.2 446.3 613.6 443.2 614.0 442.0 C614.4 440.8 614.8 438.0 615.2 438.5 C615.6 439.0 616.1 442.8 616.5 445.0 C616.9 447.2 617.1 451.6 617.5 452.0 C617.9 452.4 618.4 448.5 618.8 447.5 C619.1 446.5 619.3 444.7 619.6 446.0 C619.9 447.3 620.4 454.4 620.8 455.5 C621.2 456.6 621.6 453.3 622.0 452.5 C622.4 451.7 622.6 449.9 623.0 450.5 C623.4 451.1 624.0 454.4 624.5 456.0 C625.0 457.6 625.5 459.9 626.0 460.3 C626.5 460.7 627.0 458.9 627.5 458.5 C628.0 458.1 628.7 457.7 629.3 458.2 C629.9 458.7 630.4 460.2 631.0 461.5 C631.6 462.8 632.2 464.7 633.0 466.0 C633.8 467.3 634.8 468.4 636.0 469.5 C637.2 470.6 638.3 471.6 640.0 472.8 C641.7 474.0 643.5 475.5 646.0 476.8 C648.5 478.1 651.8 479.8 655.0 480.8 C658.2 481.8 660.8 482.3 665.0 483.0 C669.2 483.7 674.2 484.4 680.0 485.0 C685.8 485.6 691.7 485.9 700.0 486.3 C708.3 486.7 720.0 487.0 730.0 487.2 C740.0 487.4 749.0 487.5 760.0 487.6 C771.0 487.7 790.0 487.8 796.0 487.8" fill="none" stroke="#140805" stroke-width="3.3" stroke-linejoin="round" stroke-linecap="butt"/>
<g class="tk"><text x="494" y="494.4" text-anchor="end">0</text>
<text x="494" y="480.9" text-anchor="end">20</text>
<text x="494" y="467.4" text-anchor="end">40</text>
<text x="494" y="453.9" text-anchor="end">60</text>
<text x="494" y="440.4" text-anchor="end">80</text>
<text x="494" y="426.9" text-anchor="end">100</text>
<text x="494" y="413.4" text-anchor="end">120</text></g>
<text class="ax" transform="translate(440.3,445) rotate(-90)" text-anchor="middle">Pressure</text>
<text class="ax" transform="translate(455.3,445) rotate(-90)" text-anchor="middle">(mm Hg)</text>
<path d="M586.4 415.8L637.5 413.8" stroke="#111" stroke-width="0.9"/>
<path d="M564.5 456.5L581.5 440.5" stroke="#111" stroke-width="0.9"/>
<g class="lb"><text x="640" y="418.6">Systolic</text><text x="640" y="432.3">pressure</text><text x="511" y="460.8">Diastolic</text><text x="511" y="475">pressure</text></g>
<g class="xl"><text transform="translate(536,496.3) rotate(-45)" text-anchor="end">Aorta</text>
<text transform="translate(586,496.3) rotate(-45)" text-anchor="end">Arteries</text>
<text transform="translate(622,496.3) rotate(-45)" text-anchor="end">Arterioles</text>
<text transform="translate(643.5,496.3) rotate(-45)" text-anchor="end">Capillaries</text>
<text transform="translate(663.5,496.3) rotate(-45)" text-anchor="end">Venules</text>
<text transform="translate(698,496.3) rotate(-45)" text-anchor="end">Veins</text>
<text transform="translate(752,496.3) rotate(-45)" text-anchor="end">Venae</text>
<text transform="translate(763,507.3) rotate(-45)" text-anchor="end">cavae</text></g>
<text x="430" y="550.3" font-size="5.4" style="font-weight:normal;fill:#3a3a3a">© 2011 Pearson Education, Inc.</text>
<!--/CHARTS-->
</svg>
<div id="foot"></div>
<div id="foottxt">© 2011 Pearson Education, Inc.</div>
</body></html>
